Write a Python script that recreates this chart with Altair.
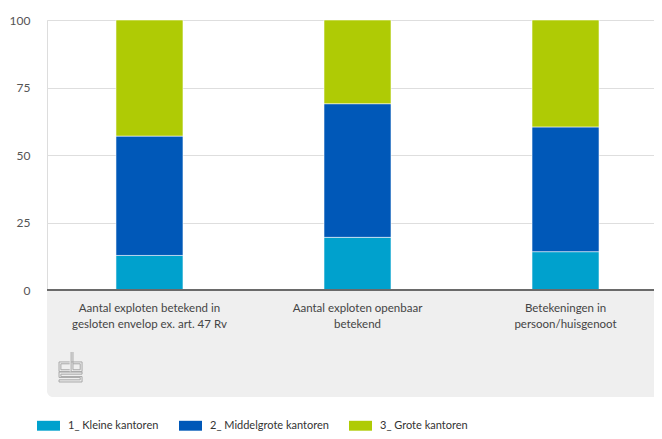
import altair as alt
import pandas as pd

categories = [
    "Aantal exploten betekend in|gesloten envelop ex. art. 47 Rv",
    "Aantal exploten openbaar|betekend",
    "Betekeningen in|persoon/huisgenoot",
]
series = ["1_ Kleine kantoren", "2_ Middelgrote kantoren", "3_ Grote kantoren"]
kleine = [12.8, 19.5, 14.2]
middelgrote = [44.2, 49.5, 46.2]
grote = [43.0, 31.0, 39.6]
colors = ["#00A1CD", "#0058B8", "#AFCB05"]
y_ticks = [0, 25, 50, 75, 100]

rows = []
for i, cat in enumerate(categories):
    for j, (s, vals) in enumerate(zip(series, [kleine, middelgrote, grote])):
        rows.append({"cat": cat, "serie": s, "idx": j, "value": vals[i]})
df = pd.DataFrame(rows)

FONT = "Lato"
W, H = 607, 270

band = alt.Chart(pd.DataFrame({"a": [0]})).mark_rect(
    color="#efefef", cornerRadiusBottomLeft=6
).encode(
    x=alt.value(0), x2=alt.value(W), y=alt.value(H), y2=alt.value(377)
)

logo_path = (
    "M-0.05,-0.3 H-0.8 V0.38 H-0.05 "
    "M-0.05,-0.17 H-0.67 V0.25 H-0.05 "
    "M0.05,-1 V0.38 H0.82 V-0.3 H0.05 "
    "M0.18,-1 V0.25 H0.69 V-0.17 H0.18 "
)
logo_s = (
    "M0.82,-0.35 H-0.8 V0.03 H0.69 V0.2 H-0.8 V0.35 H0.82 V-0.03 H-0.67 V-0.2 H0.82 Z"
)
logo_top = alt.Chart(pd.DataFrame({"a": [0]})).mark_point(
    shape=logo_path, size=807, filled=False, stroke="#a8a8a8", strokeWidth=1, opacity=1
).encode(x=alt.value(23.4), y=alt.value(346.2))
logo_bot = alt.Chart(pd.DataFrame({"a": [0]})).mark_point(
    shape=logo_s, size=807, filled=False, stroke="#a8a8a8", strokeWidth=1, opacity=1
).encode(x=alt.value(23.4), y=alt.value(357))

bars = alt.Chart(df).mark_bar(
    size=67, xOffset=7, stroke="white", strokeWidth=0.8, strokeOpacity=0.7
).encode(
    x=alt.X(
        "cat:N",
        sort=categories,
        scale=alt.Scale(paddingInner=0.678, paddingOuter=0.298),
        axis=alt.Axis(
            title=None, domain=False, ticks=False, labelAngle=0,
            labelExpr="split(datum.label, '|')",
            labelFont=FONT, labelFontSize=11.5, labelColor="#444",
            labelLineHeight=16, labelPadding=12, labelBaseline="top",
            labelAlign="center", zindex=2, labelLimit=300, labelOffset=7,
        ),
    ),
    y=alt.Y(
        "value:Q",
        stack="zero",
        scale=alt.Scale(domain=[0, 100], nice=False),
        axis=alt.Axis(
            title=None, values=y_ticks, domain=False, ticks=False,
            labelFont=FONT, labelFontSize=12, labelColor="#555",
            labelPadding=17, gridColor="#dedede", gridWidth=1,
        ),
    ),
    color=alt.Color(
        "serie:N",
        scale=alt.Scale(domain=series, range=colors),
        legend=alt.Legend(
            title=None, orient="none", legendX=-10, legendY=394,
            direction="horizontal", columns=3, columnPadding=20,
            symbolType="M-1,-0.43 H1 V0.43 H-1 Z", symbolSize=529,
            symbolStrokeWidth=0, labelOffset=8,
            labelFont=FONT, labelFontSize=11, labelColor="#333",
        ),
    ),
    order=alt.Order("idx:Q", sort="ascending"),
)

baseline = alt.Chart(pd.DataFrame({"y": [0]})).mark_rule(
    color="#6a6a6a", strokeWidth=2
).encode(y="y:Q", x=alt.value(0), x2=alt.value(W))

chart = alt.layer(band, bars, baseline, logo_top, logo_bot).properties(
    width=W, height=H,
    autosize=alt.AutoSizeParams(type="none"),
    padding={"left": 39, "top": 12, "right": 0, "bottom": 141},
).configure_view(stroke=None).configure(background="white")

chart.save("out.html", embed_options={"renderer": "svg", "actions": False})
